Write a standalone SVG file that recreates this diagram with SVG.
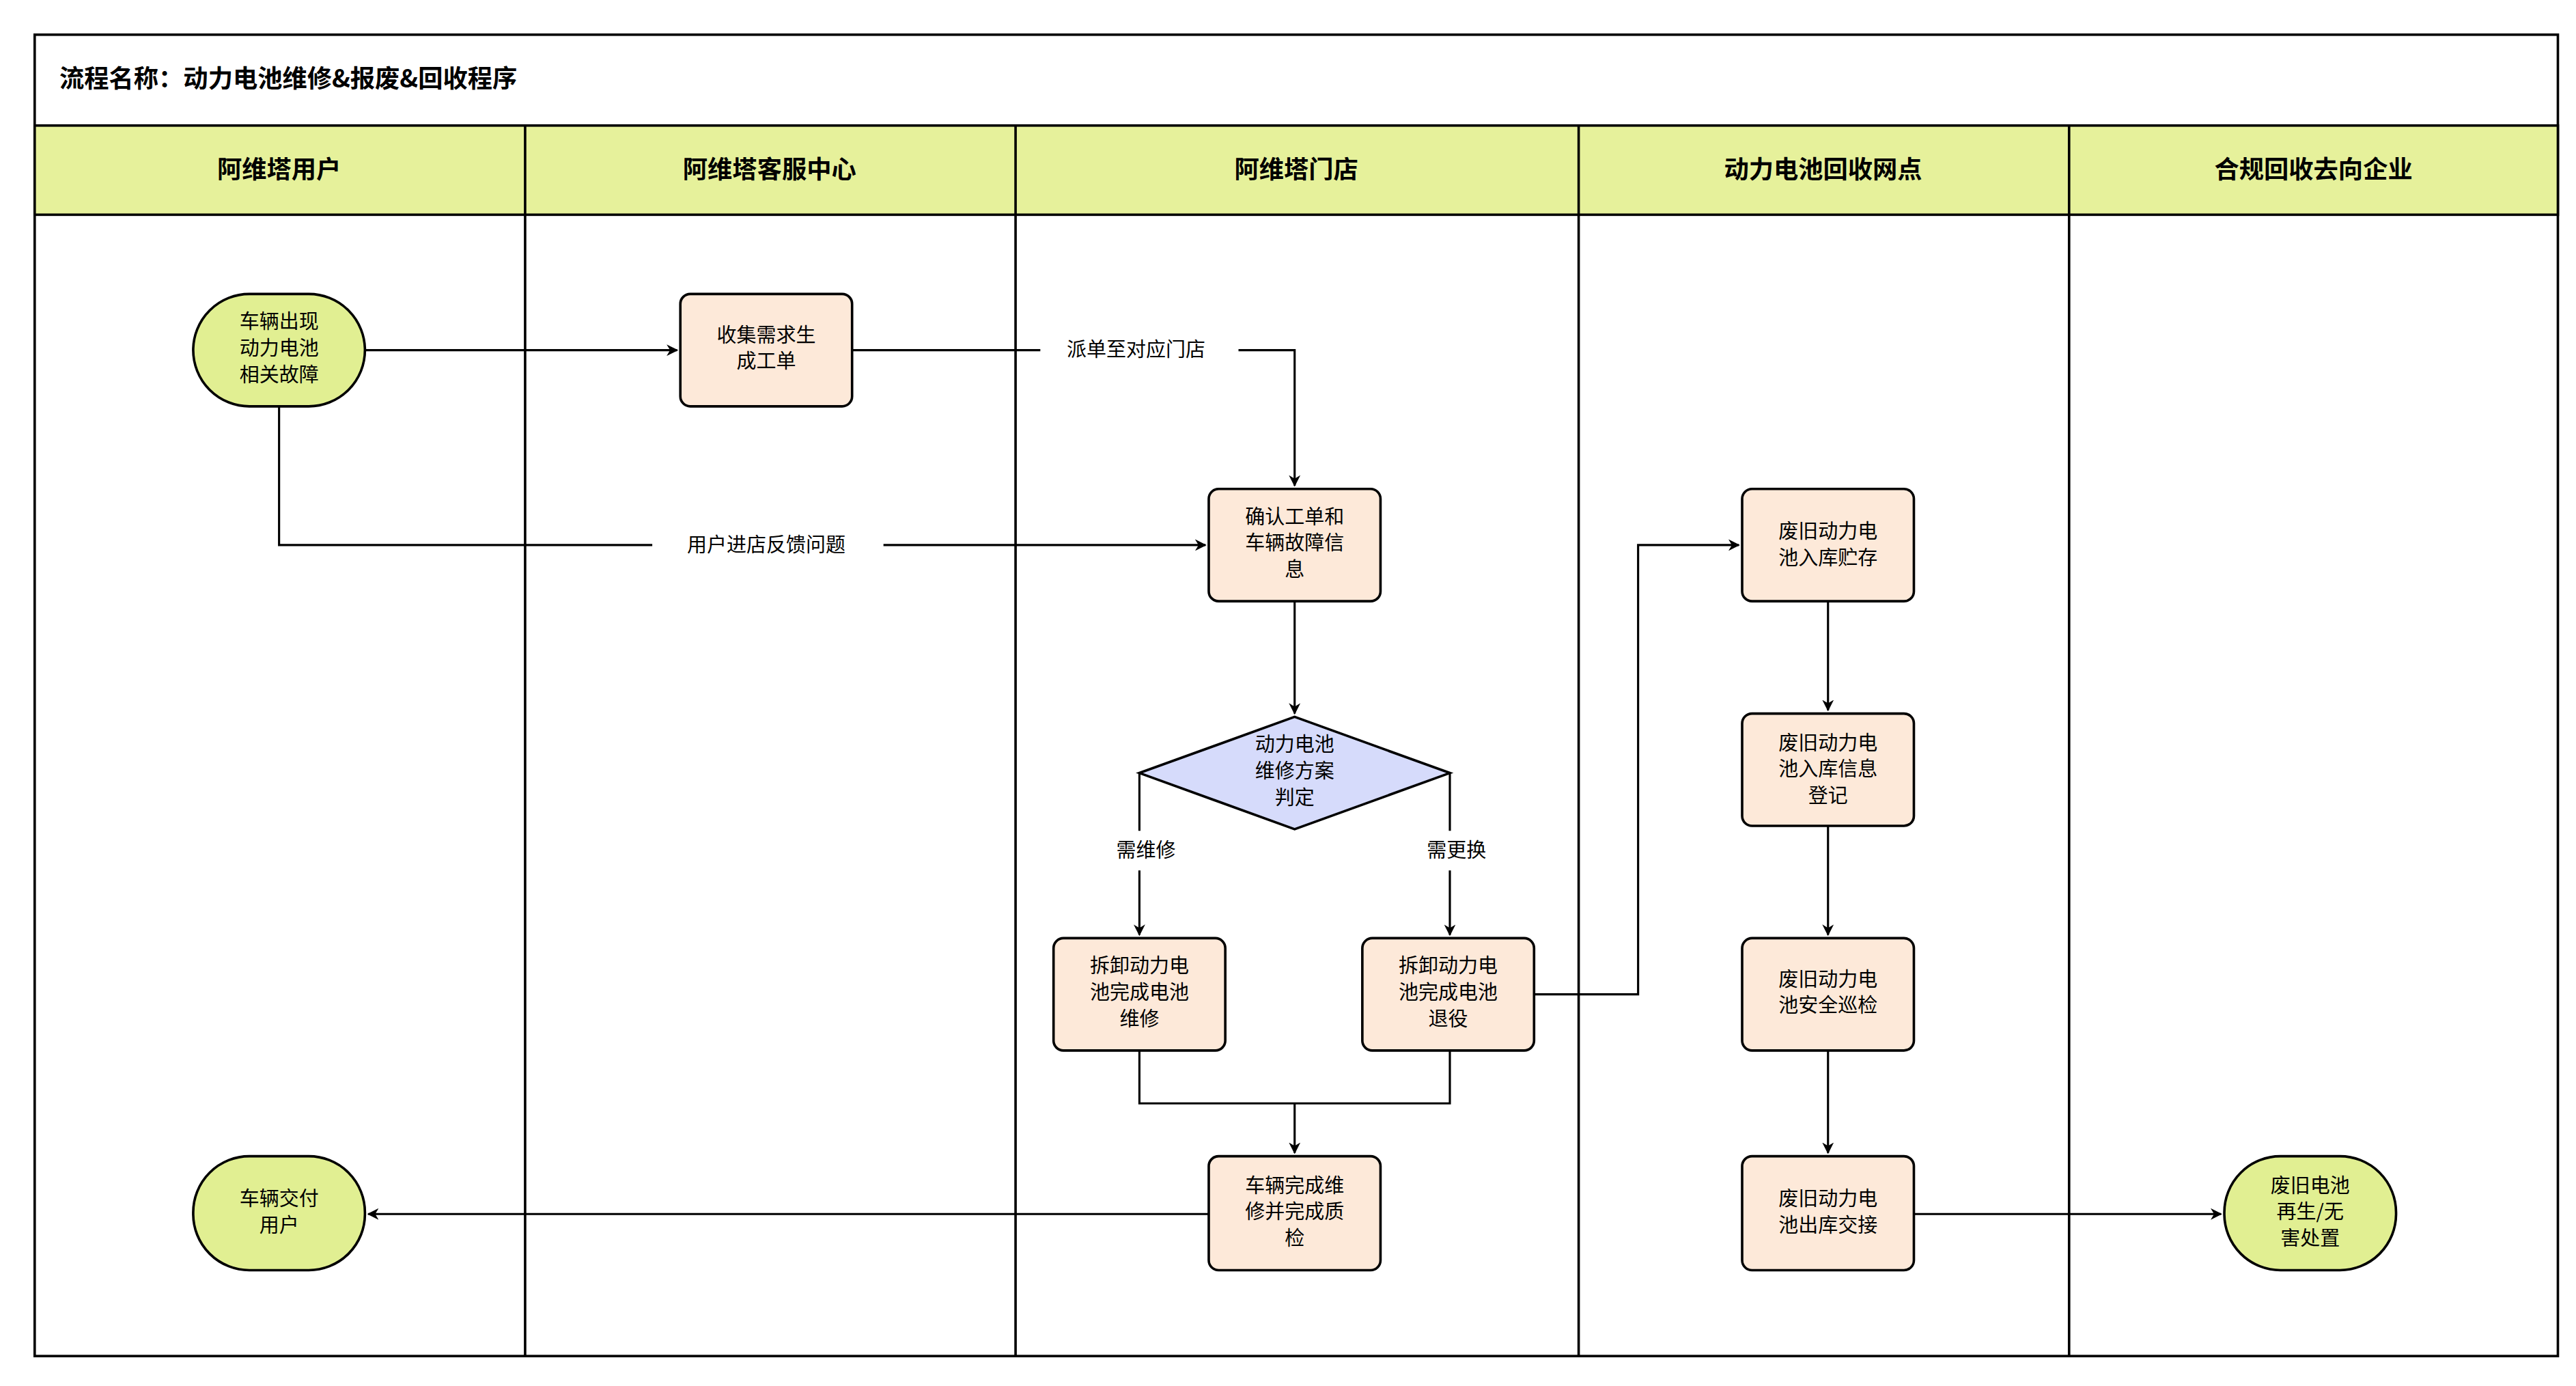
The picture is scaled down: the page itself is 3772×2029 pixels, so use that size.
<svg xmlns="http://www.w3.org/2000/svg" width="3772" height="2029" viewBox="0 0 3772 2029">
<defs>
<marker id="ah" viewBox="0 0 10 10" refX="9" refY="5" markerWidth="7" markerHeight="7" markerUnits="userSpaceOnUse" orient="auto"><path d="M0,0 L10,5 L0,10 L3,5 z" fill="#000"/></marker>
<style>
text{font-family:"Noto Sans CJK SC","Liberation Sans",sans-serif;fill:#000}
.n{font-size:12px;text-anchor:middle}
.h{font-size:15px;font-weight:bold;text-anchor:middle}
.l{font-size:12px;text-anchor:middle}
.rect{fill:#fde9d9;stroke:#000;stroke-width:1.5}
.st{fill:#e1ef92;stroke:#000;stroke-width:1.5}
.c{fill:none;stroke:#000;stroke-width:1.3}
.frame{fill:none;stroke:#000;stroke-width:1.5}
</style>
</defs>
<rect width="3772" height="2029" fill="#fff"/>
<g transform="scale(2.418)">
<g id="lanes">
<rect x="21" y="21" width="1528" height="800" class="frame" fill="#fff"/>
<rect x="21" y="76" width="1528" height="54" fill="#e6f19b" stroke="#000" stroke-width="1.5"/>
<line x1="318" y1="76" x2="318" y2="821" class="frame"/>
<line x1="615" y1="76" x2="615" y2="821" class="frame"/>
<line x1="956" y1="76" x2="956" y2="821" class="frame"/>
<line x1="1253" y1="76" x2="1253" y2="821" class="frame"/>
<text x="36" y="53" style="font-size:15px;font-weight:bold">流程名称：动力电池维修&amp;报废&amp;回收程序</text>
<text x="169" y="108" class="h">阿维塔用户</text>
<text x="466" y="108" class="h">阿维塔客服中心</text>
<text x="785" y="108" class="h">阿维塔门店</text>
<text x="1104" y="108" class="h">动力电池回收网点</text>
<text x="1401" y="108" class="h">合规回收去向企业</text>
</g>
<g id="connectors">
<path d="M221,212 H410" class="c" marker-end="url(#ah)"/>
<path d="M516,212 H630 M750,212 H784 V294" class="c" marker-end="url(#ah)"/>
<text x="688" y="216" class="l">派单至对应门店</text>
<path d="M169,246 V330 H395 M535,330 H730" class="c" marker-end="url(#ah)"/>
<text x="464" y="334" class="l">用户进店反馈问题</text>
<path d="M784,364 V432" class="c" marker-end="url(#ah)"/>
<path d="M690,468 V503 M690,527 V566" class="c" marker-end="url(#ah)"/>
<text x="694" y="519" class="l">需维修</text>
<path d="M878,468 V503 M878,527 V566" class="c" marker-end="url(#ah)"/>
<text x="882" y="519" class="l">需更换</text>
<path d="M690,636 V668 H878 V636 M784,668 V698" class="c" marker-end="url(#ah)"/>
<path d="M929,602 H992 V330 H1053" class="c" marker-end="url(#ah)"/>
<path d="M732,735 H223" class="c" marker-end="url(#ah)"/>
<path d="M1107,364 V430" class="c" marker-end="url(#ah)"/>
<path d="M1107,500 V566" class="c" marker-end="url(#ah)"/>
<path d="M1107,636 V698" class="c" marker-end="url(#ah)"/>
<path d="M1159,735 H1345" class="c" marker-end="url(#ah)"/>
</g>
<g id="start"><rect x="117" y="178" width="104" height="68" rx="34" class="st"/><text class="n"><tspan x="169" y="199">车辆出现</tspan><tspan x="169" y="215">动力电池</tspan><tspan x="169" y="231">相关故障</tspan></text></g>
<g id="collect"><rect x="412" y="178" width="104" height="68" rx="6" class="rect"/><text class="n"><tspan x="464" y="207">收集需求生</tspan><tspan x="464" y="223">成工单</tspan></text></g>
<g id="confirm"><rect x="732" y="296" width="104" height="68" rx="6" class="rect"/><text class="n"><tspan x="784" y="317">确认工单和</tspan><tspan x="784" y="333">车辆故障信</tspan><tspan x="784" y="349">息</tspan></text></g>
<g id="decide"><path d="M784,434 L878,468 L784,502 L690,468 Z" fill="#d6dbfb" stroke="#000" stroke-width="1.5"/><text class="n"><tspan x="784" y="455">动力电池</tspan><tspan x="784" y="471">维修方案</tspan><tspan x="784" y="487">判定</tspan></text></g>
<g id="repair"><rect x="638" y="568" width="104" height="68" rx="6" class="rect"/><text class="n"><tspan x="690" y="589">拆卸动力电</tspan><tspan x="690" y="605">池完成电池</tspan><tspan x="690" y="621">维修</tspan></text></g>
<g id="retire"><rect x="825" y="568" width="104" height="68" rx="6" class="rect"/><text class="n"><tspan x="877" y="589">拆卸动力电</tspan><tspan x="877" y="605">池完成电池</tspan><tspan x="877" y="621">退役</tspan></text></g>
<g id="qc"><rect x="732" y="700" width="104" height="69" rx="6" class="rect"/><text class="n"><tspan x="784" y="722">车辆完成维</tspan><tspan x="784" y="738">修并完成质</tspan><tspan x="784" y="754">检</tspan></text></g>
<g id="deliver"><rect x="117" y="700" width="104" height="69" rx="34" class="st"/><text class="n"><tspan x="169" y="730">车辆交付</tspan><tspan x="169" y="746">用户</tspan></text></g>
<g id="store"><rect x="1055" y="296" width="104" height="68" rx="6" class="rect"/><text class="n"><tspan x="1107" y="326">废旧动力电</tspan><tspan x="1107" y="342">池入库贮存</tspan></text></g>
<g id="register"><rect x="1055" y="432" width="104" height="68" rx="6" class="rect"/><text class="n"><tspan x="1107" y="454">废旧动力电</tspan><tspan x="1107" y="470">池入库信息</tspan><tspan x="1107" y="486">登记</tspan></text></g>
<g id="inspect"><rect x="1055" y="568" width="104" height="68" rx="6" class="rect"/><text class="n"><tspan x="1107" y="597">废旧动力电</tspan><tspan x="1107" y="613">池安全巡检</tspan></text></g>
<g id="handover"><rect x="1055" y="700" width="104" height="69" rx="6" class="rect"/><text class="n"><tspan x="1107" y="730">废旧动力电</tspan><tspan x="1107" y="746">池出库交接</tspan></text></g>
<g id="dispose"><rect x="1347" y="700" width="104" height="69" rx="34" class="st"/><text class="n"><tspan x="1399" y="722">废旧电池</tspan><tspan x="1399" y="738">再生/无</tspan><tspan x="1399" y="754">害处置</tspan></text></g>
</g>
</svg>
